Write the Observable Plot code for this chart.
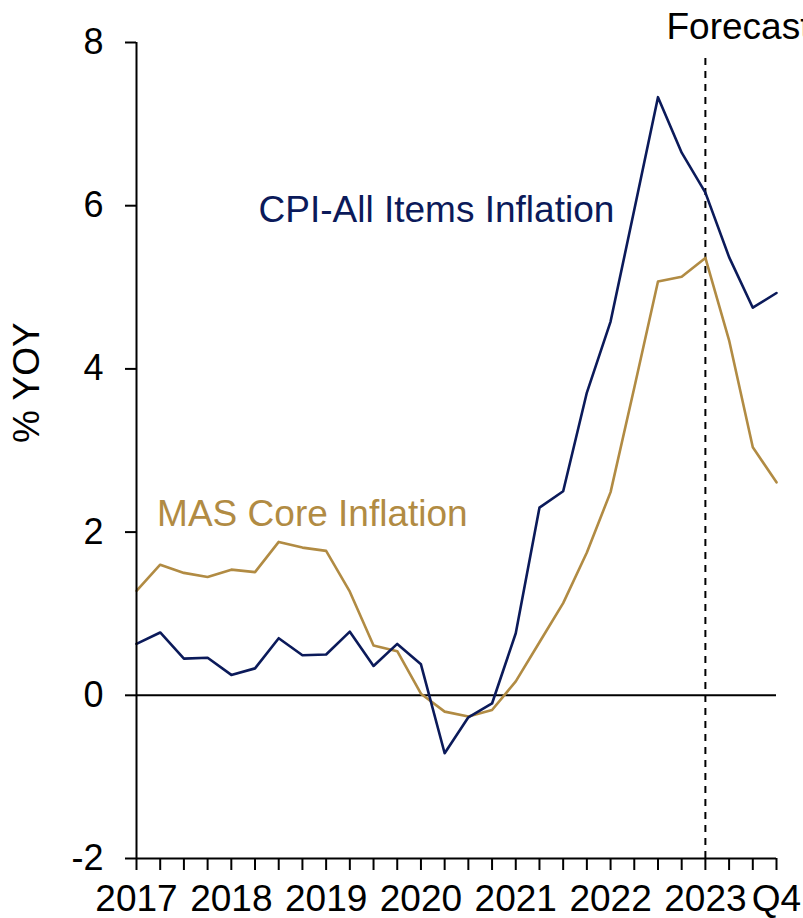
<!DOCTYPE html>
<html><head><meta charset="utf-8">
<script src="https://cdn.jsdelivr.net/npm/d3@7"></script>
<script src="https://cdn.jsdelivr.net/npm/@observablehq/plot@0.6"></script>
<style>html,body{margin:0;padding:0;background:#fff;overflow:hidden}</style>
</head><body><div id="chart"></div>
<script>
const quarters = [
  "2017Q1","2017Q2","2017Q3","2017Q4","2018Q1","2018Q2","2018Q3","2018Q4",
  "2019Q1","2019Q2","2019Q3","2019Q4","2020Q1","2020Q2","2020Q3","2020Q4",
  "2021Q1","2021Q2","2021Q3","2021Q4","2022Q1","2022Q2","2022Q3","2022Q4",
  "2023Q1","2023Q2","2023Q3","2023Q4"
];
const cpiAllItems = [0.63,0.77,0.45,0.46,0.25,0.33,0.70,0.49,0.50,0.78,0.36,0.63,0.38,-0.71,-0.27,-0.10,0.76,2.30,2.50,3.71,4.58,5.95,7.33,6.65,6.16,5.37,4.75,4.93];
const masCore = [1.28,1.60,1.50,1.45,1.54,1.51,1.88,1.81,1.77,1.27,0.61,0.54,0.02,-0.20,-0.26,-0.18,0.17,0.65,1.13,1.75,2.49,3.77,5.07,5.13,5.36,4.35,3.04,2.61];
const yTicks = [-2,0,2,4,6,8];
const xTickLabels = ["2017","2018","2019","2020","2021","2022","2023","Q4"];
const xLabelQuarters = ["2017Q1","2018Q1","2019Q1","2020Q1","2021Q1","2022Q1","2023Q1","2023Q4"];
const forecastStart = "2023Q1";
const seriesNames = ["CPI-All Items Inflation","MAS Core Inflation"];
const yAxisTitle = "% YOY";
const forecastLabel = "Forecast";

const navy = "#0b1a5a";
const gold = "#b18b43";

const W = 803, H = 918, mL = 136, mR = 27, mT = 42;
const yMin = yTicks[0], yMax = yTicks[yTicks.length - 1];
const pxPerUnit = 81.6;            // vertical scale of the reference
const tickPx = 12;                 // length of x-axis tick marks
const tickLen = tickPx / pxPerUnit;
const mB = H - mT - (yMax - yMin) * pxPerUnit - tickPx; // frame extends down to the tick ends

const idx = quarters.map((_, i) => i);
const rows = quarters.map((q, i) => ({i, q, cpi: cpiAllItems[i], core: masCore[i]}));
const xLabels = xLabelQuarters.map((q, k) => ({i: quarters.indexOf(q), label: xTickLabels[k]}));
const fIdx = quarters.indexOf(forecastStart);

const font = '"Liberation Sans", Arial, Helvetica, sans-serif';

const chart = Plot.plot({
  width: W, height: H,
  marginLeft: mL, marginRight: mR, marginTop: mT, marginBottom: mB,
  style: {fontFamily: font, background: "#fff", color: "#000", overflow: "hidden"},
  x: {domain: [0, quarters.length - 1], axis: null, label: null},
  y: {domain: [yMin - tickLen, yMax], axis: null, label: null},
  marks: [
    Plot.ruleY([0], {stroke: "#000", strokeWidth: 2}),
    Plot.ruleX([fIdx], {y1: yMin, y2: 7.84, stroke: "#000", strokeWidth: 2, strokeDasharray: "7,6"}),
    Plot.line(rows, {x: "i", y: "core", stroke: gold, strokeWidth: 2.6}),
    Plot.line(rows, {x: "i", y: "cpi", stroke: navy, strokeWidth: 2.6}),
    Plot.axisY({ticks: yTicks, tickSize: 11, tickPadding: 22, fontSize: 36, strokeWidth: 2, label: null, tickFormat: d => String(d)}),
    Plot.ruleX([0], {y1: yMin, y2: yMax, stroke: "#000", strokeWidth: 2}),
    Plot.ruleX(idx, {x: d => d, y1: yMin - tickLen, y2: yMin, stroke: "#000", strokeWidth: 2}),
    Plot.ruleY([yMin], {stroke: "#000", strokeWidth: 2}),
    Plot.text(xLabels, {x: "i", text: "label", frameAnchor: "bottom", dy: 40, lineAnchor: "bottom", fontSize: 37, fill: "#000"}),
    Plot.text([yAxisTitle], {frameAnchor: "left", rotate: -90, dx: -109, dy: -13.5, fontSize: 37, fill: "#000"}),
    Plot.text([seriesNames[0]], {x: 5.15, y: 5.80, textAnchor: "start", lineAnchor: "bottom", fontSize: 37, fill: navy}),
    Plot.text([seriesNames[1]], {x: 0.87, y: 2.07, textAnchor: "start", lineAnchor: "bottom", fontSize: 37, fill: gold}),
    Plot.text([forecastLabel], {x: 22.36, y: 8.04, textAnchor: "start", lineAnchor: "bottom", fontSize: 37, fill: "#000"})
  ]
});
document.getElementById("chart").appendChild(chart);
</script>
</body></html>
